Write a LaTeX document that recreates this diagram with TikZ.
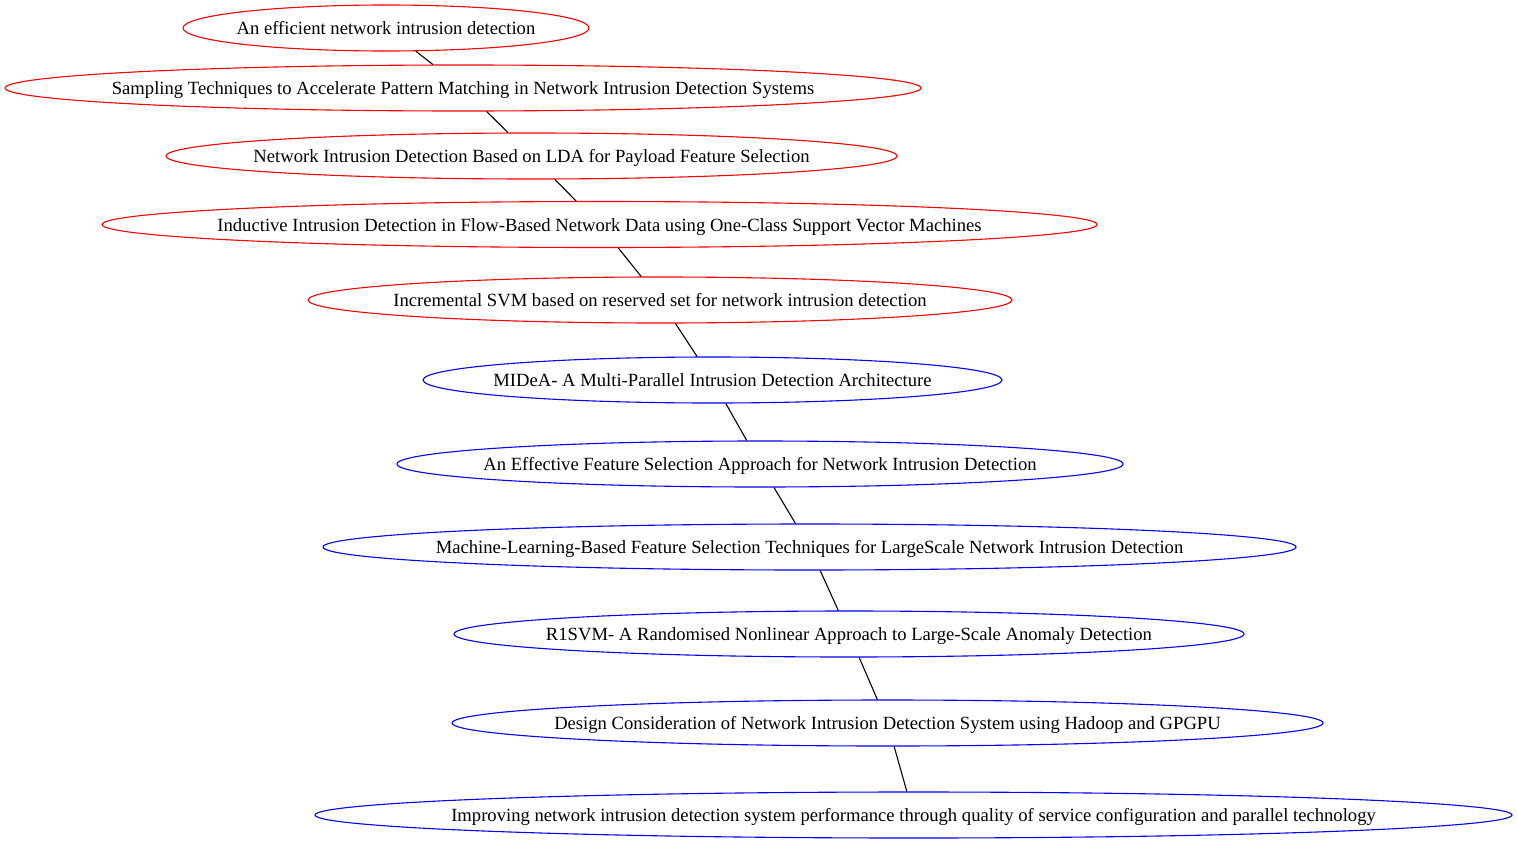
\documentclass[tikz,border=0pt]{standalone}
\usepackage{fontspec}
\setmainfont{Liberation Serif}
\usetikzlibrary{shapes.geometric}
\tikzset{
  paper/.style={ellipse, draw, line width=1.1bp, inner sep=0pt, minimum height=46bp,
    font=\fontsize{18.7}{21}\selectfont},
  older/.style={paper, draw=red},
  newer/.style={paper, draw=blue},
  link/.style={line width=1.1bp, black}
}
\newcommand\ttl[1]{\makebox[0pt]{\smash{\raisebox{-6.5bp}{#1}}}}
\begin{document}
\begin{tikzpicture}[x=1bp,y=-1bp]
        \useasboundingbox (0,0) rectangle (1517,845);
        \node[older, minimum width=406bp] (p1) at (386,28) {\ttl{An efficient network intrusion detection}};
        \node[older, minimum width=916bp] (p2) at (463,88) {\ttl{Sampling Techniques to Accelerate Pattern Matching in Network Intrusion Detection Systems}};
        \node[older, minimum width=731bp] (p3) at (531.5,156) {\ttl{Network Intrusion Detection Based on LDA for Payload Feature Selection}};
        \node[older, minimum width=995bp] (p4) at (599.5,224.5) {\ttl{Inductive Intrusion Detection in Flow-Based Network Data using One-Class Support Vector Machines}};
        \node[older, minimum width=704bp] (p5) at (660,300) {\ttl{Incremental SVM based on reserved set for network intrusion detection}};
        \node[newer, minimum width=579bp] (p6) at (712.5,380) {\ttl{MIDeA- A Multi-Parallel Intrusion Detection Architecture}};
        \node[newer, minimum width=726bp] (p7) at (760,464) {\ttl{An Effective Feature Selection Approach for Network Intrusion Detection}};
        \node[newer, minimum width=973bp] (p8) at (809.5,547) {\ttl{Machine-Learning-Based Feature Selection Techniques for LargeScale Network Intrusion Detection}};
        \node[newer, minimum width=790bp] (p9) at (849,634) {\ttl{R1SVM- A Randomised Nonlinear Approach to Large-Scale Anomaly Detection}};
        \node[newer, minimum width=871bp] (p10) at (887.5,723) {\ttl{Design Consideration of Network Intrusion Detection System using Hadoop and GPGPU}};
        \node[newer, minimum width=1197bp] (p11) at (913.5,815) {\ttl{Improving network intrusion detection system performance through quality of service configuration and parallel technology}};
        % chain of papers
        \foreach \a/\b in {p1/p2,p2/p3,p3/p4,p4/p5,p5/p6,p6/p7,p7/p8,p8/p9,p9/p10,p10/p11}
            \draw[link] (\a) -- (\b);
    \end{tikzpicture}
\end{document}
